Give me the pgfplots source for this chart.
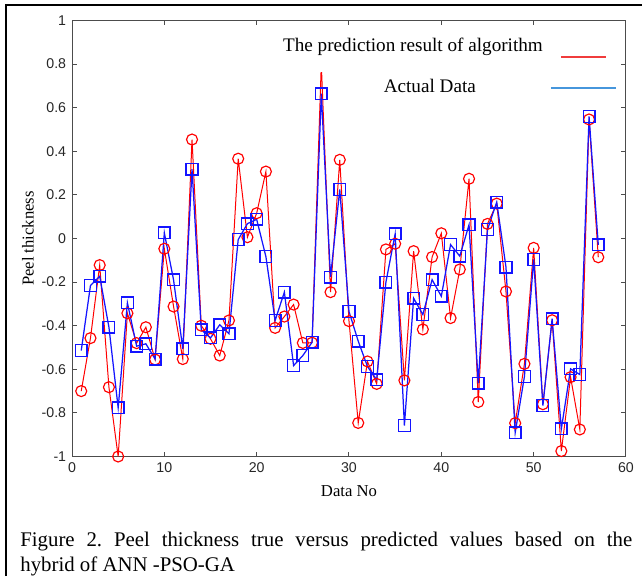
\documentclass[border=0pt]{standalone}
\usepackage{fontspec}
\setmainfont{Liberation Serif}
\setsansfont{Liberation Sans}
\usepackage{pgfplots}
\pgfplotsset{compat=1.18}
\usepackage{pgfplotstable}

\definecolor{predred}{RGB}{255,0,0}
\definecolor{actblue}{RGB}{20,20,255}
\definecolor{legred}{RGB}{240,60,60}
\definecolor{legblue}{RGB}{70,150,220}

% n = data no, pred = prediction of algorithm, actual = actual data
\pgfplotstableread{
n pred actual
1 -0.700 -0.514
2 -0.457 -0.216
3 -0.122 -0.173
4 -0.682 -0.407
5 -1.000 -0.777
6 -0.343 -0.295
7 -0.480 -0.494
8 -0.407 -0.483
9 -0.555 -0.553
10 -0.047 0.026
11 -0.312 -0.190
12 -0.553 -0.506
13 0.454 0.318
14 -0.400 -0.419
15 -0.460 -0.456
16 -0.537 -0.396
17 -0.376 -0.437
18 0.366 -0.005
19 0.006 0.068
20 0.116 0.088
21 0.307 -0.083
22 -0.410 -0.376
23 -0.358 -0.246
24 -0.303 -0.583
25 -0.479 -0.537
26 -0.478 -0.476
27 0.800 0.664
28 -0.246 -0.177
29 0.361 0.225
30 -0.379 -0.335
31 -0.846 -0.471
32 -0.564 -0.587
33 -0.667 -0.648
34 -0.050 -0.200
35 -0.024 0.021
36 -0.651 -0.858
37 -0.058 -0.274
38 -0.417 -0.349
39 -0.085 -0.189
40 0.024 -0.265
41 -0.365 -0.028
42 -0.142 -0.081
43 0.274 0.063
44 -0.750 -0.664
45 0.067 0.041
46 0.160 0.167
47 -0.243 -0.131
48 -0.847 -0.891
49 -0.575 -0.633
50 -0.043 -0.096
51 -0.760 -0.766
52 -0.375 -0.368
53 -0.975 -0.873
54 -0.636 -0.598
55 -0.876 -0.624
56 0.546 0.560
57 -0.086 -0.029
}\peel

\begin{document}
\frenchspacing
\begin{tikzpicture}
\useasboundingbox (0,0) rectangle (385.2pt,345.6pt);
% figure frame (left and top edges)
\draw[line width=1.2pt] (3.6pt,0pt) -- (3.6pt,342.3pt) -- (386pt,342.3pt);
\begin{axis}[
  at={(43.2pt,71.7pt)}, anchor=south west,
  scale only axis, width=332.4pt, height=261.6pt,
  xmin=0, xmax=60, ymin=-1, ymax=1,
  xtick={0,10,...,60},
  ytick={-1,-0.8,-0.6,-0.4,-0.2,0,0.2,0.4,0.6,0.8,1},
  clip=false,
  tick align=inside,
  major tick length=3pt,
  axis line style={black!70, line width=0.6pt},
  every tick/.style={black!70, line width=0.6pt},
  tick label style={font=\sffamily\fontsize{8.5}{10}\selectfont, text=black!85},
  /pgf/number format/assume math mode=true,
  xlabel={Data No}, ylabel={Peel thickness},
  label style={font=\fontsize{10}{12}\selectfont},
  xlabel style={at={(axis description cs:0.5,-0.079)}, anchor=center},
  ylabel style={at={(axis description cs:-0.0794,0.5)}, anchor=center},
  legend plot pos=right, legend cell align=right,
  legend style={at={(rel axis cs:0.9838,0.96)}, anchor=north east,
    draw=none, fill=none, inner sep=0pt,
    column sep=4.2pt, row sep=4.2pt,
    nodes={inner sep=0pt},
    font=\fontsize{11.5}{13}\selectfont},
]
\addlegendimage{legred, line width=0.8pt, legend image code/.code={
  \path[draw=none] (0pt,0pt) -- (39pt,0pt);
  \draw[legred, line width=0.8pt] (6pt,-1.2pt) -- (33pt,-1.2pt);}}
\addlegendentry[fill=white, text depth=12pt]{The prediction result of algorithm}
\addlegendimage{legblue, line width=1.1pt, legend image code/.code={
  \draw[draw=legblue, line width=1.1pt] (0pt,-0.6pt) -- (39pt,-0.6pt);}}
\addlegendentry{Actual Data\hspace*{40.2pt}}

\addplot[forget plot, predred, line width=0.6pt, mark=o, mark size=3.3pt,
  mark options={draw=predred, fill=none, solid, line width=0.7pt}]
  table[x=n, y=pred] {\peel};
\addplot[forget plot, actblue, line width=0.75pt, mark=square, mark size=3.5pt,
  mark options={draw=actblue, fill=none, solid, line width=0.85pt}]
  table[x=n, y=actual] {\peel};
\end{axis}
\node[anchor=north west, text width=367.2pt, align=justify, inner sep=0pt,
  font=\fontsize{12.5}{15}\selectfont] at (12pt,26.8pt)
  {Figure 2. Peel thickness true versus predicted values based on the\linebreak
   hybrid of ANN -PSO-GA};
\end{tikzpicture}
\end{document}
